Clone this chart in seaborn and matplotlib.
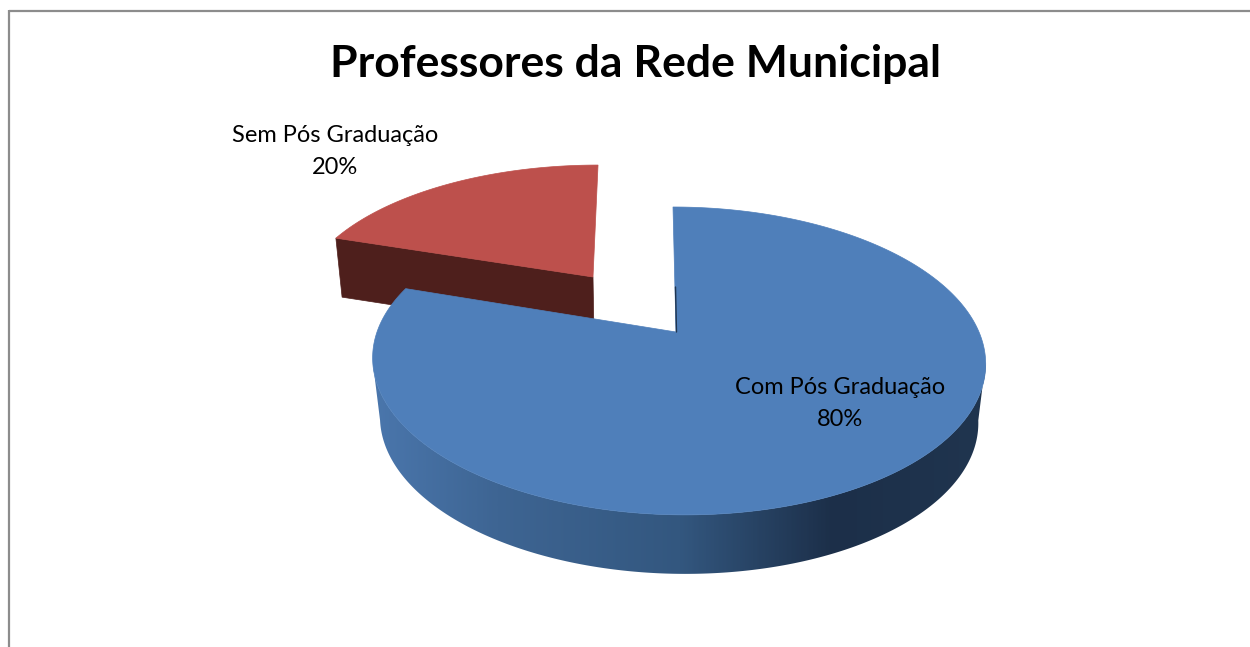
import numpy as np
import seaborn as sns
import matplotlib
matplotlib.use("Agg")
import matplotlib.pyplot as plt
from matplotlib.colors import LinearSegmentedColormap
from matplotlib.patches import Polygon

# ---- data ----
title = "Professores da Rede Municipal"
categories = ["Com Pós Graduação", "Sem Pós Graduação"]
shares = [80, 20]
top_colors = ["#4f7fba", "#bd504c"]
side_colors = ["#1f3550", "#4e1f1c"]
wall_ramp = ["#4a76ac", "#3e6593", "#33577f", "#1c2f49", "#20354f"]

sns.set_theme(style="white")
plt.rcParams["font.family"] = ["Lato", "DejaVu Sans"]

W, H = 1250, 647
fig = plt.figure(figsize=(W / 100, H / 100), dpi=100, facecolor="white")
ax = fig.add_axes([0, 0, 1, 1])
ax.set_xlim(0, W)
ax.set_ylim(H, 0)
ax.axis("off")

# Perspective projection of the pie plane into the picture
K = 0.188


def project(theta, cx, cy, a, b, shear, xscale=1.0, drop=0.0):
    u, v = np.cos(theta), np.sin(theta)
    w = 1 + K * v
    up = a * v / w
    return cx + xscale * b * u / w - shear * up, cy - up + drop


blue = dict(cx=678, cy=332, a=148.5, b=301, shear=0.04)
red = dict(cx=593, cy=277, a=133, b=288, shear=-0.045)
DEPTH, XS = 59, 0.976

angle_start = np.pi / 2
blue_end = angle_start - 2 * np.pi * shares[0] / sum(shares)   # clockwise
red_end = angle_start + 2 * np.pi * shares[1] / sum(shares)    # counter-clockwise

# --- red slice ---
apex_bx, apex_by = project(0, red["cx"], red["cy"], 0, 0, 0)
rim_x, rim_y = project(red_end, **red)
rim_bx, rim_by = project(red_end, **red, xscale=XS, drop=DEPTH)
ax.add_patch(Polygon([(rim_x, rim_y), (apex_bx, apex_by),
                      (apex_bx + 1, apex_by + DEPTH), (rim_bx, rim_by)],
                     closed=True, fc=side_colors[1], ec=side_colors[1], lw=0.5, zorder=2))
th = np.linspace(angle_start, red_end, 120)
x, y = project(th, **red)
ax.fill(np.r_[x, apex_bx], np.r_[y, apex_by], color=top_colors[1], lw=0.5, zorder=3)

# --- blue slice wall with a horizontal gradient, between the two side tangents ---
th = np.radians(np.linspace(191, 349, 300))
xt, yt = project(th, **blue)
xb, yb = project(th, **blue, xscale=XS, drop=DEPTH)
wall = Polygon(np.c_[np.r_[xb, xt[::-1]], np.r_[yb, yt[::-1]]], closed=True,
               transform=ax.transData, fc="none", ec="none")
ax.add_patch(wall)
cmap = LinearSegmentedColormap.from_list("wall", list(zip([0, 0.2, 0.5, 0.75, 1], wall_ramp)))
im = ax.imshow(np.linspace(0, 1, 400)[None, :], cmap=cmap, aspect="auto", zorder=4,
               extent=(373, 987, 600, 300), interpolation="bilinear")
im.set_clip_path(wall)
ax.set_xlim(0, W)
ax.set_ylim(H, 0)

# --- blue slice top ---
th = np.linspace(angle_start, blue_end, 400)
x, y = project(th, **blue)
apex_x, apex_y = blue["cx"] - 2, blue["cy"]
ax.fill(np.r_[x, apex_x], np.r_[y, apex_y], color=top_colors[0], lw=0.5, zorder=5)
# thin visible sliver of the cut face
ax.plot([x[0] + 2.5, apex_x + 0.5], [y[0] + 80, apex_y], color=side_colors[0], lw=1.0, zorder=6)

# --- text ---
ax.text(635, 64, title, ha="center", va="center", fontsize=32, fontweight="bold",
        color="black", zorder=8)
for cat, share, tx, ty in zip(categories, shares, [840, 335], [387, 136]):
    ax.text(tx, ty, cat, ha="center", va="center", fontsize=17, color="black", zorder=8)
    ax.text(tx, ty + 32, f"{share}%", ha="center", va="center", fontsize=17,
            color="black", zorder=8)

# --- frame (top and left only are in view) ---
frame_c = "#8c8c8c"
ax.plot([9, W], [11, 11], color=frame_c, lw=1.6, zorder=1, solid_capstyle="butt")
ax.plot([9, 9], [10, H], color=frame_c, lw=1.6, zorder=1, solid_capstyle="butt")

fig.savefig("out.png", dpi=100, facecolor="white")
